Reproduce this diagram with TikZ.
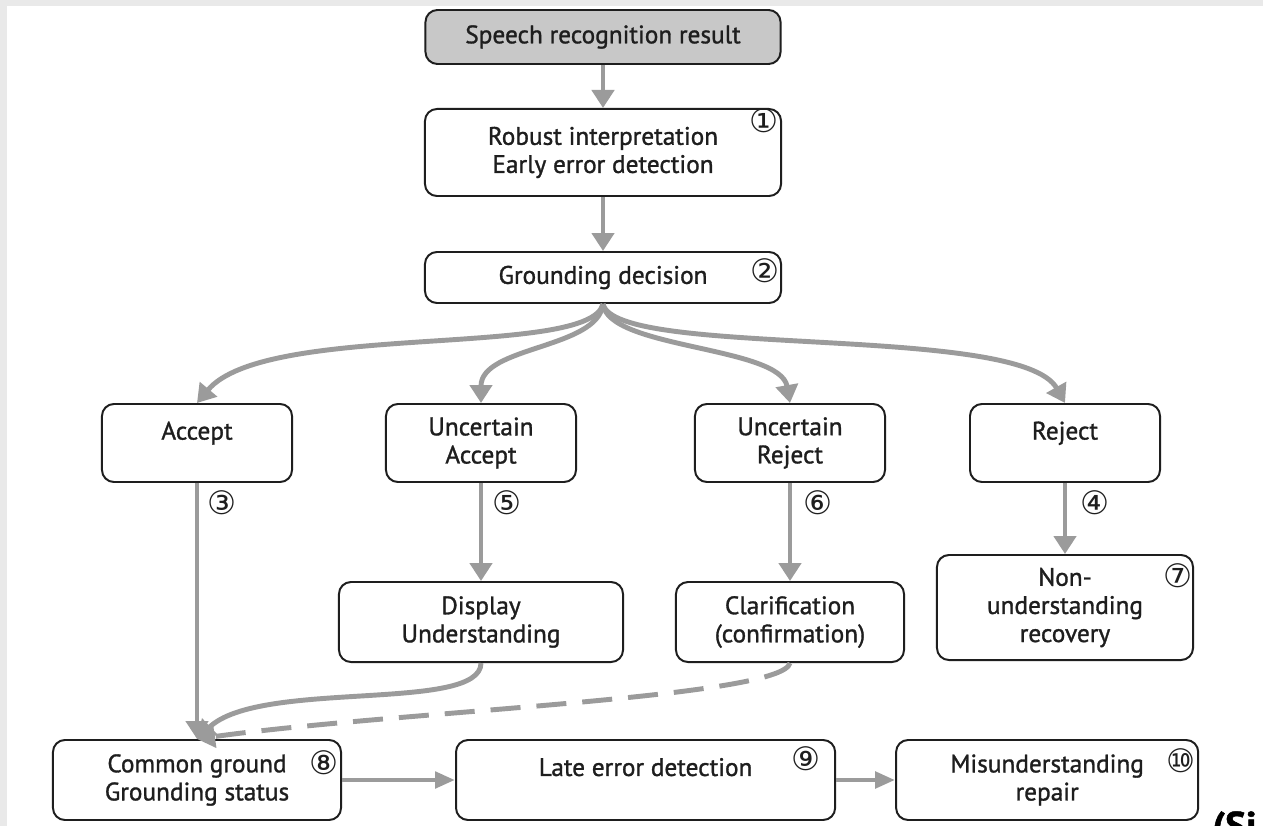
\documentclass[tikz,border=0pt]{standalone}
\usepackage{fontspec}
\setmainfont{PT Sans}[FakeBold=1.2]
\newfontfamily\circfont{DejaVu Sans}
\usetikzlibrary{arrows.meta, positioning}
\definecolor{flowgray}{HTML}{9B9B9B}
\definecolor{boxgray}{HTML}{C8C8C8}
\definecolor{edgegray}{HTML}{1E1E1E}
\definecolor{pagegray}{HTML}{E9E9E9}
\tikzset{
  stage/.style={draw=edgegray, line width=1.4pt, rounded corners=0.3cm, align=center, inner sep=1mm, text=edgegray, font=\fontsize{18}{20}\selectfont},
  decision/.style={stage, minimum width=4.75cm, minimum height=1.95cm},
  num/.style={inner sep=0pt, text=edgegray, font=\circfont\fontsize{23}{23}\selectfont},
  flow/.style={draw=flowgray, line width=3.5pt, -{Triangle[width=0.55cm, length=0.45cm]}},
  sideflow/.style={flow, -{Triangle[width=0.4cm, length=0.5cm]}}
}
\begin{document}
\begin{tikzpicture}[x=0.025cm, y=-0.025cm]
\useasboundingbox (0,0) rectangle (1263,826);
\fill[pagegray] (0,0) rectangle (1263,826);
\fill[white] (7,6) rectangle (1263,826);

\node[stage, fill=boxgray, minimum width=8.875cm, minimum height=1.35cm] (sr) at (603,37) {Speech recognition result};
\node[stage, minimum width=8.9cm, minimum height=2.175cm, below=1.075cm of sr] (robust) {Robust interpretation\\Early error detection};
\node[stage, minimum width=8.9cm, minimum height=1.275cm, below=1.35cm of robust] (gd) {Grounding decision};

\node[decision, text depth=0.62cm] (accept) at (197,443) {Accept};
\node[decision] (ua) at (481,443) {Uncertain\\Accept};
\node[decision] (ur) at (790,443) {Uncertain\\Reject};
\node[decision, text depth=0.62cm] (rej) at (1065,443) {Reject};

\node[stage, minimum width=7.1cm, minimum height=2cm, below=2.45cm of ua] (du) {Display\\Understanding};
\node[stage, minimum width=5.7cm, minimum height=2cm, below=2.45cm of ur] (cl) {Clarification\\(confirmation)};
\node[stage, minimum width=6.4cm, minimum height=2.625cm, below=1.775cm of rej] (nu) {Non-\\understanding\\recovery};

\node[stage, minimum width=7.2cm, minimum height=2cm] (cg) at (197,780) {Common ground\\Grounding status};
\node[stage, minimum width=9.475cm, minimum height=2cm, text depth=0.65cm, right=2.825cm of cg] (led) {Late error detection};
\node[stage, minimum width=7.55cm, minimum height=2cm, right=1.475cm of led] (mr) {Misunderstanding\\repair};

\node[num] (n1) at ([xshift=-0.45cm, yshift=-0.325cm]robust.north east) {①};
\node[num] (n2) at ([xshift=-0.425cm, yshift=-0.5cm]gd.north east) {②};
\node[num] (n3) at ([xshift=0.625cm, yshift=-0.5cm]accept.south) {③};
\node[num] (n5) at ([xshift=0.65cm, yshift=-0.5cm]ua.south) {⑤};
\node[num] (n6) at ([xshift=0.7cm, yshift=-0.5cm]ur.south) {⑥};
\node[num] (n4) at ([xshift=0.75cm, yshift=-0.5cm]rej.south) {④};
\node[num] (n7) at ([xshift=-0.4cm, yshift=-0.55cm]nu.north east) {⑦};
\node[num] (n8) at ([xshift=-0.45cm, yshift=-0.6cm]cg.north east) {⑧};
\node[num] (n9) at ([xshift=-0.75cm, yshift=-0.5cm]led.north east) {⑨};
\node[num] (n10) at ([xshift=-0.45cm, yshift=-0.55cm]mr.north east) {⑩};

\node[anchor=north west, inner sep=0pt, font=\bfseries\fontsize{28}{30}\selectfont] (src) at (1212,811) {(Si};

\draw[flow] (sr) -- (robust);
\draw[flow] (robust) -- (gd);
\draw[flow] (gd.south) .. controls +(-13,55) and +(69,-82) .. (accept.north);
\draw[flow] (gd.south) .. controls +(-5,45) and +(0,-57) .. (ua.north);
\draw[flow] (gd.south) .. controls +(5,45) and +(-10,-57) .. (ur.north);
\draw[flow] (gd.south) .. controls +(12,55) and +(-45,-80) .. (rej.north);
\draw[flow] (accept) -- (cg);
\draw[flow] (ua) -- (du);
\draw[flow] (ur) -- (cl);
\draw[flow] (rej) -- (nu);
\draw[flow] (du.south) .. controls +(0,50) and +(63,-60) .. (cg.north);
\draw[flow, dash pattern=on 0.75cm off 0.4cm] (cl.south) .. controls +(-8,35) and +(200,-28) .. (cg.north);
\draw[sideflow] (cg) -- (led);
\draw[sideflow] (led) -- (mr);
\end{tikzpicture}
\end{document}
